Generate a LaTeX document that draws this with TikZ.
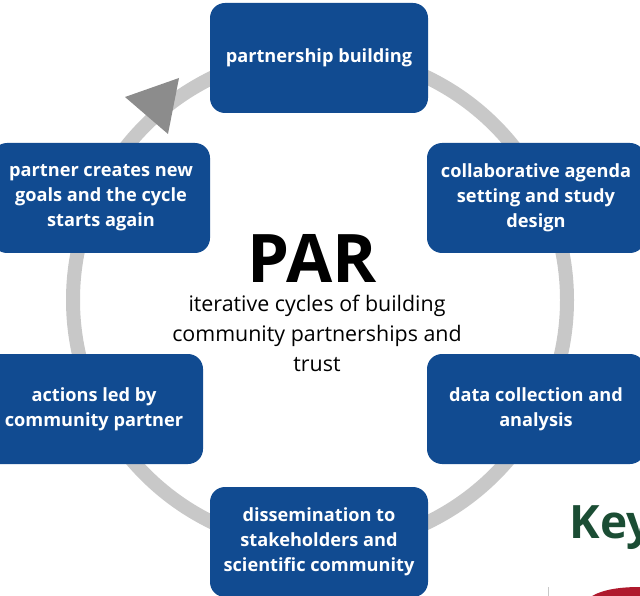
\documentclass[tikz,border=0pt]{standalone}
\usepackage{fontspec}
\setmainfont{Open Sans}
\usetikzlibrary{positioning}

\definecolor{parblue}{RGB}{17,75,145}
\definecolor{ringgray}{RGB}{200,200,200}
\definecolor{tipgray}{RGB}{140,140,140}
\definecolor{keygreen}{RGB}{27,77,52}
\definecolor{swoosh}{RGB}{175,25,45}

\begin{document}
\begin{tikzpicture}[x=1pt,y=-1pt]
       \tikzstyle{stage}=[draw=none, fill=parblue, rounded corners=15pt, minimum width=218pt, minimum height=110pt, text=white, align=center, font=\bfseries\fontsize{18.2}{25}\selectfont]

       \useasboundingbox (0,0) rectangle (640,596);
       \clip (0,0) rectangle (640,596);

       % the cycle
       \draw[ringgray, line width=14pt] (320,300) circle [radius=247pt];
       \fill[tipgray] (179,78) -- (125,97) -- (168,134) -- cycle;

       \node[stage] (build) at (319,58) {partnership building};
       \node[stage] (agenda) at (536,198) {collaborative agenda\\setting and study\\design};
       \node[stage] (data) at (536,409) {data collection and\\analysis};
       \node[stage] (dissem) at (319,542) {dissemination to\\stakeholders and\\scientific community};
       \node[stage] (action) at (94,409) {actions led by\\community partner};
       \node[stage] (goals) at (101,198) {partner creates new\\goals and the cycle\\starts again};

       \node[font=\bfseries\fontsize{67}{67}\selectfont] (par) at (312,258) {PAR};
       \node[align=center, font=\fontsize{21.4}{30}\selectfont] (iter) at (317,333) {iterative cycles of building\\community partnerships and\\trust};

       % cropped edge of the page
       \node[anchor=west, text=keygreen, font=\bfseries\fontsize{46}{46}\selectfont] (key) at (566,528) {Key};
       \draw[ringgray, line width=1pt] (548,587) -- (548,596);
       \fill[swoosh] (592,596) .. controls (604,589) and (622,587) .. (640,587) -- (640,596) -- cycle;
\end{tikzpicture}
\end{document}
